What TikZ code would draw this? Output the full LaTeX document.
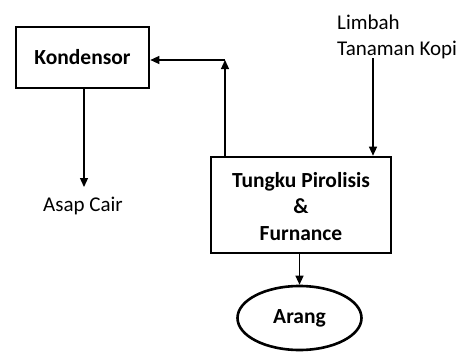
\documentclass[tikz,border=0pt]{standalone}
\usepackage{fontspec}
\setmainfont{Carlito}
\usetikzlibrary{arrows.meta,shapes.geometric}
\begin{document}
\begin{tikzpicture}[x=1pt,y=-1pt,
  box/.style={draw,line width=2.6pt,inner sep=0pt},
  boldtxt/.style={font=\bfseries\fontsize{21.5}{26.5}\selectfont,align=center,inner sep=0pt},
  lbl/.style={inner sep=0pt,font=\fontsize{21}{26}\selectfont,align=left},
  arr/.style={line width=1.2pt,-{Triangle[length=9pt,width=8pt]}}]
\useasboundingbox (0,0) rectangle (466,351);
\node[box,boldtxt,minimum width=133pt,minimum height=61pt] (kond) at (82.5,57.5) {Kondensor};
\node[box,minimum width=180pt,minimum height=96pt] (tungku) at (301,205) {};
\node[boldtxt,anchor=base] (tt) at (301,240) {Tungku Pirolisis\\\&\\Furnance};
\node[draw,ellipse,line width=2.6pt,minimum width=124pt,minimum height=64pt,boldtxt] (arang) at (299.5,318) {Arang};
\node[lbl,anchor=base west] (limbah) at (337,55) {Limbah\\Tanaman Kopi};
\node[lbl,anchor=base] (asap) at (83,211) {Asap Cair};
\coordinate (up) at (225,60);
\draw[arr] (tungku.north -| up) -- (up);
\draw[arr] (up) -- (kond.east |- up);
\draw[arr] (373,58) -- (tungku.north -| 373,0);
\draw[arr] (kond.south -| 84,0) -- (84,187);
\draw[arr] (tungku.south -| arang.north) -- (arang.north);
\end{tikzpicture}
\end{document}
